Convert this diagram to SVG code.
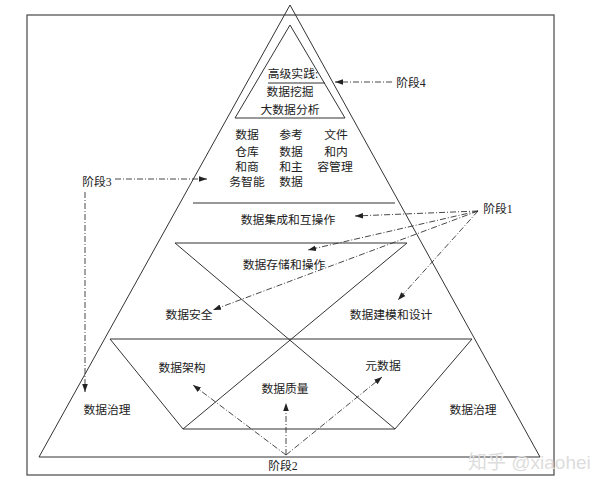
<svg xmlns="http://www.w3.org/2000/svg" width="600" height="486" viewBox="0 0 600 486">
<defs>
<marker id="ah" viewBox="0 0 10 10" refX="10" refY="5" markerWidth="8" markerHeight="8" markerUnits="userSpaceOnUse" orient="auto">
<path d="M0,1.5 L10,5 L0,8.5 z" fill="#222"/>
</marker>
<style>
.ln{fill:none;stroke:#333;stroke-width:1}
.fr{fill:none;stroke:#555;stroke-width:1.3}
.dd{fill:none;stroke:#333;stroke-width:0.9;stroke-dasharray:6 2 1 2;marker-end:url(#ah)}
.t{font-family:"Liberation Serif","Noto Sans CJK SC",serif;font-size:11.8px;fill:#222;text-anchor:middle}
.wm{font-family:"Liberation Sans","Noto Sans CJK SC",sans-serif;font-size:19px;fill:#ddd;text-anchor:start}
</style>
</defs>
<rect id="frame" class="fr" x="27" y="15" width="527" height="460" fill="#fff"/>
<g id="shapes">
<polygon class="ln" points="290,5 39,457 540,457"/>
<polygon class="ln" points="290,25 235,118 345,118"/>
<line class="ln" x1="268" y1="83" x2="325" y2="83"/>
<line class="ln" x1="193" y1="203" x2="395" y2="203"/>
<line class="ln" x1="175" y1="243" x2="407" y2="243"/>
<line class="ln" x1="175" y1="243" x2="395" y2="429"/>
<line class="ln" x1="407" y1="243" x2="183" y2="429"/>
<polygon class="ln" points="110,339 472,339 395,429 183,429"/>
</g>
<g id="top">
<text class="t" x="293" y="78">高级实践:</text>
<text class="t" x="290" y="96">数据挖掘</text>
<text class="t" x="290" y="114">大数据分析</text>
</g>
<g id="warehouse">
<text class="t" x="247" y="139">数据</text>
<text class="t" x="247" y="156">仓库</text>
<text class="t" x="247" y="171">和商</text>
<text class="t" x="247" y="186">务智能</text>
</g>
<g id="reference">
<text class="t" x="291" y="139">参考</text>
<text class="t" x="291" y="156">数据</text>
<text class="t" x="291" y="171">和主</text>
<text class="t" x="291" y="186">数据</text>
</g>
<g id="documents">
<text class="t" x="336" y="139">文件</text>
<text class="t" x="336" y="156">和内</text>
<text class="t" x="335" y="171">容管理</text>
</g>
<g id="integration"><text class="t" x="288" y="224">数据集成和互操作</text></g>
<g id="storage"><text class="t" x="284" y="269">数据存储和操作</text></g>
<g id="security"><text class="t" x="189" y="319">数据安全</text></g>
<g id="modeling"><text class="t" x="391" y="319">数据建模和设计</text></g>
<g id="architecture"><text class="t" x="182" y="372">数据架构</text></g>
<g id="metadata"><text class="t" x="383" y="370">元数据</text></g>
<g id="quality"><text class="t" x="285" y="393">数据质量</text></g>
<g id="gov-left"><text class="t" x="107" y="414">数据治理</text></g>
<g id="gov-right"><text class="t" x="473" y="414">数据治理</text></g>
<g id="stage1"><text class="t" x="498" y="213">阶段1</text></g>
<g id="stage2"><text class="t" x="283" y="470">阶段2</text></g>
<g id="stage3"><text class="t" x="97" y="186">阶段3</text></g>
<g id="stage4"><text class="t" x="411" y="87">阶段4</text></g>
<g id="connectors">
<line class="dd" x1="392" y1="82" x2="335" y2="82"/>
<line class="dd" x1="115" y1="179" x2="207" y2="179"/>
<line class="dd" x1="85" y1="192" x2="85" y2="392"/>
<line class="dd" x1="478" y1="211" x2="355" y2="216"/>
<line class="dd" x1="478" y1="211" x2="308" y2="250"/>
<line class="dd" x1="478" y1="211" x2="213" y2="310"/>
<line class="dd" x1="478" y1="211" x2="398" y2="300"/>
<line class="dd" x1="286" y1="455" x2="193" y2="385"/>
<line class="dd" x1="286" y1="455" x2="286" y2="403"/>
<line class="dd" x1="286" y1="455" x2="382" y2="377"/>
</g>
<text class="wm" x="468" y="469">知乎 @xiaohei</text>
</svg>
